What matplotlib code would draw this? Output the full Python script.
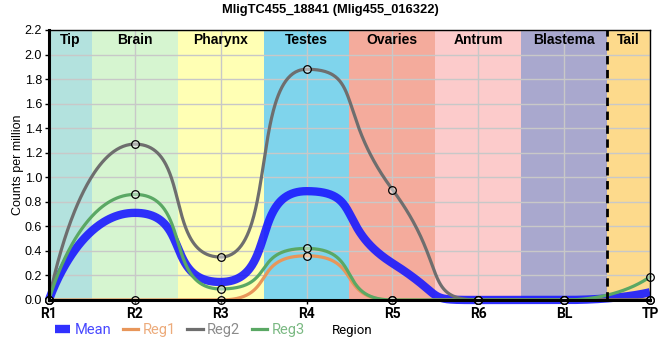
import matplotlib
matplotlib.use("Agg")
import matplotlib.pyplot as plt
import numpy as np

plt.rcParams["font.family"] = ["Liberation Sans", "DejaVu Sans"]

regions = ["R1", "R2", "R3", "R4", "R5", "R6", "BL", "TP"]
reg1 = [0.0, 0.0, 0.0, 0.36, 0.0, 0.0, 0.0, 0.0]
reg2 = [0.0, 1.27, 0.35, 1.88, 0.90, 0.0, 0.0, 0.0]
reg3 = [0.0, 0.86, 0.09, 0.42, 0.0, 0.0, 0.0, 0.19]

band_names = ["Tip", "Brain", "Pharynx", "Testes", "Ovaries", "Antrum", "Blastema", "Tail"]
band_edges = [0, 0.5, 1.5, 2.5, 3.5, 4.5, 5.5, 6.5, 7]
band_colors = ["#b3e2de", "#d6f5d0", "#ffffb4", "#7fd4ec", "#f4ab9c",
               "#fccbcb", "#a9a8ce", "#fdda8c"]


def spline(xp, yp, n=100, smoothing=0.5):
    # bezier spline through the points, flat at extremes
    xp = np.asarray(xp, float)
    yp = np.asarray(yp, float)
    k = len(xp)
    left = [(xp[i], yp[i]) for i in range(k)]
    right = [(xp[i], yp[i]) for i in range(k)]
    den = smoothing + 1
    for i in range(1, k - 1):
        lx, ly, px, py, nx, ny = xp[i - 1], yp[i - 1], xp[i], yp[i], xp[i + 1], yp[i + 1]
        lcx = (smoothing * px + lx) / den
        lcy = (smoothing * py + ly) / den
        rcx = (smoothing * px + nx) / den
        rcy = (smoothing * py + ny) / den
        corr = (rcy - lcy) * (rcx - px) / (rcx - lcx) + py - rcy
        lcy += corr
        rcy += corr
        if lcy > ly and lcy > py:
            lcy = max(ly, py)
            rcy = 2 * py - lcy
        elif lcy < ly and lcy < py:
            lcy = min(ly, py)
            rcy = 2 * py - lcy
        if rcy > ny and rcy > py:
            rcy = max(ny, py)
            lcy = 2 * py - rcy
        elif rcy < ny and rcy < py:
            rcy = min(ny, py)
            lcy = 2 * py - rcy
        left[i] = (lcx, lcy)
        right[i] = (rcx, rcy)
    t = np.linspace(0, 1, n)[:, None]
    out = []
    for i in range(k - 1):
        p0 = np.array([xp[i], yp[i]])
        p1 = np.array(right[i])
        p2 = np.array(left[i + 1])
        p3 = np.array([xp[i + 1], yp[i + 1]])
        seg = ((1 - t) ** 3 * p0 + 3 * (1 - t) ** 2 * t * p1
               + 3 * (1 - t) * t ** 2 * p2 + t ** 3 * p3)
        out.append(seg if i == 0 else seg[1:])
    pts = np.vstack(out)
    return pts[:, 0], pts[:, 1]


x = np.arange(len(regions))
mean = np.mean([reg1, reg2, reg3], axis=0)

fig = plt.figure(figsize=(6.6, 3.6), dpi=100)
ax = fig.add_axes([0.0742, 0.1667, 0.9106, 0.75])

for i, name in enumerate(band_names):
    ax.axvspan(band_edges[i], band_edges[i + 1], color=band_colors[i], lw=0, zorder=0)
    ax.text((band_edges[i] + band_edges[i + 1]) / 2, 2.12, name, ha="center",
            va="center", fontsize=10, fontweight="bold", zorder=5)
ax.axvline(6.5, color="black", lw=2, ls=(0, (3, 2)), zorder=4)

ax.grid(True, color="#c8c8c8", lw=1, zorder=1)
ax.set_axisbelow(True)

series = [(reg1, "#e8965a", "Reg1"), (reg2, "#6e6e6e", "Reg2"), (reg3, "#5aa864", "Reg3")]
handles = []
sx, sy = spline(x, mean)
(hm,) = ax.plot(sx, sy, color="#1a1aff", lw=6, alpha=0.9,
                solid_capstyle="butt", zorder=3, clip_on=False, label="Mean")
handles.append(hm)
for vals, col, lab in series:
    sx, sy = spline(x, vals)
    (h,) = ax.plot(sx, sy, color=col, lw=2.3, zorder=3, clip_on=False, label=lab)
    handles.append(h)
for vals, col, lab in series:
    ax.plot(x, vals, ls="none", marker="o", ms=5.5, mfc=(1, 1, 1, 0.45),
            mec="black", mew=0.9, zorder=6, clip_on=False)

ax.set_xlim(0, 7)
ax.set_ylim(0, 2.2)
ax.set_yticks(np.arange(0, 2.21, 0.2))
ax.set_yticklabels([f"{v:.1f}" for v in np.arange(0, 2.21, 0.2)], fontsize=9)
ax.set_xticks(x)
ax.set_xticklabels(regions, fontsize=10, fontweight="bold", family=["Roboto", "DejaVu Sans"])
ax.tick_params(axis="both", length=3, width=1, pad=2)
ax.set_ylabel("Counts per million", fontsize=9, labelpad=0.5)

for side in ["left", "bottom"]:
    ax.spines[side].set_linewidth(2.2)
for side in ["top", "right"]:
    ax.spines[side].set_linewidth(1)
for s in ax.spines.values():
    s.set_zorder(7)

fig.suptitle("MligTC455_18841 (Mlig455_016322)", fontsize=9.3, fontweight="bold", y=0.99)

leg = fig.legend(handles=handles, loc="center left", bbox_to_anchor=(0.083, 0.083),
                 ncol=4, frameon=False, handlelength=1.05,
                 handletextpad=0.3, columnspacing=0.8, borderpad=0, borderaxespad=0,
                 prop={"family": ["Roboto", "DejaVu Sans"], "size": 10.5})
for txt, h in zip(leg.get_texts(), handles):
    txt.set_color(h.get_color())
    txt.set_alpha(0.8)
fig.text(0.533, 0.083, "Region", fontsize=9.5, ha="center", va="center",
         family=["Roboto", "DejaVu Sans"])

fig.savefig("out.png", dpi=100)
